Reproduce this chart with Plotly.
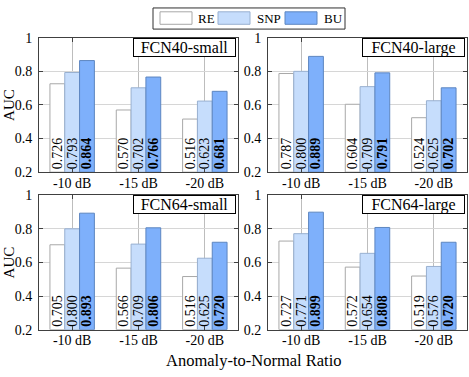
import plotly.graph_objects as go

# ---------------- data ----------------
categories = ["-10 dB", "-15 dB", "-20 dB"]
series_names = ["RE", "SNP", "BU"]
panel_titles = ["FCN40-small", "FCN40-large", "FCN64-small", "FCN64-large"]

fcn40_small_re = [0.726, 0.570, 0.516]
fcn40_small_snp = [0.793, 0.702, 0.623]
fcn40_small_bu = [0.864, 0.766, 0.681]

fcn40_large_re = [0.787, 0.604, 0.524]
fcn40_large_snp = [0.800, 0.709, 0.625]
fcn40_large_bu = [0.889, 0.791, 0.702]

fcn64_small_re = [0.705, 0.566, 0.516]
fcn64_small_snp = [0.800, 0.709, 0.625]
fcn64_small_bu = [0.893, 0.806, 0.720]

fcn64_large_re = [0.727, 0.572, 0.519]
fcn64_large_snp = [0.771, 0.654, 0.576]
fcn64_large_bu = [0.899, 0.808, 0.720]

y_tick_vals = [0.2, 0.4, 0.6, 0.8, 1.0]
y_tick_text = ["0.2", "0.4", "0.6", "0.8", "1"]

x_title = "Anomaly-to-Normal Ratio"
y_title = "AUC"

# ---------------- style ----------------
W, H = 469, 377
FONT = "Liberation Serif"
AXIS_MIN, AXIS_MAX = 0.2, 1.0
fill_colors = ["#ffffff", "#c6ddfc", "#7eb0fb"]
line_colors = ["#a8a8a8", "#98b0d0", "#5d86c0"]
AXIS_COLOR = "#404040"


def px(x):
    return x / W


def py(y):
    return 1 - y / H


panels = [
    (panel_titles[0], [fcn40_small_re, fcn40_small_snp, fcn40_small_bu]),
    (panel_titles[1], [fcn40_large_re, fcn40_large_snp, fcn40_large_bu]),
    (panel_titles[2], [fcn64_small_re, fcn64_small_snp, fcn64_small_bu]),
    (panel_titles[3], [fcn64_large_re, fcn64_large_snp, fcn64_large_bu]),
]

x_domains = [(px(39), px(238)), (px(268), px(467))]
y_domains = [(py(172), py(32)), (py(336), py(196))]

fig = go.Figure()
annotations = []
shapes = []

for i, (title, vals) in enumerate(panels):
    r, c = divmod(i, 2)
    n = i + 1
    sfx = "" if n == 1 else str(n)
    xa, ya = "x" + sfx, "y" + sfx
    for name, fc, lc, v in zip(series_names, fill_colors, line_colors, vals):
        labels = [f"{val:.3f}" for val in v]
        if name == "BU":
            labels = [f"<b>{t}</b>" for t in labels]
        fig.add_trace(go.Bar(
            x=categories,
            y=[val - AXIS_MIN for val in v],
            base=AXIS_MIN,
            name=name,
            text=labels,
            textposition="inside",
            insidetextanchor="start",
            textangle=-90,
            constraintext="none",
            textfont=dict(family=FONT, size=14, color="black"),
            marker=dict(color=fc, line=dict(color=lc, width=1)),
            xaxis=xa, yaxis=ya,
            showlegend=False,
            hoverinfo="skip",
        ))
    fig.layout["xaxis" + sfx] = dict(
        domain=x_domains[c], anchor=ya, range=[-0.5, 2.5],
        showline=True, mirror="ticks", linecolor=AXIS_COLOR, linewidth=1,
        ticks="inside", ticklen=4, tickcolor=AXIS_COLOR,
        showgrid=True, gridcolor="#bdbdbd", gridwidth=1,
        tickfont=dict(family=FONT, size=14, color="black"),
        ticklabelstandoff=-2,
        fixedrange=True,
    )
    fig.layout["yaxis" + sfx] = dict(
        domain=y_domains[r], anchor=xa, range=[AXIS_MIN, AXIS_MAX],
        tickvals=y_tick_vals, ticktext=y_tick_text,
        showline=True, mirror="ticks", linecolor=AXIS_COLOR, linewidth=1,
        ticks="inside", ticklen=4, tickcolor=AXIS_COLOR,
        showgrid=True, gridcolor="#d6d6d6", gridwidth=1,
        zeroline=False,
        tickfont=dict(family=FONT, size=14, color="black"),
        ticklabelstandoff=3,
        fixedrange=True,
    )
    annotations.append(dict(
        text=title, xref=xa + " domain", yref=ya + " domain",
        x=1, y=1, xanchor="right", yanchor="top", xshift=-2,
        showarrow=False, bgcolor="white", bordercolor="black",
        borderwidth=1, borderpad=0, width=101, height=17,
        font=dict(family=FONT, size=16, color="black"),
    ))
    if c == 0:
        yd = y_domains[r]
        annotations.append(dict(
            text=y_title, xref="paper", yref="paper",
            x=px(9), y=(yd[0] + yd[1]) / 2, xanchor="center", yanchor="middle",
            textangle=-90, showarrow=False,
            font=dict(family=FONT, size=15, color="black"),
        ))

annotations.append(dict(
    text=x_title, xref="paper", yref="paper", x=px(254), y=py(368),
    xanchor="center", yanchor="middle", showarrow=False,
    font=dict(family=FONT, size=16.5, color="black"),
))

# ---------------- manual legend ----------------
shapes.append(dict(type="rect", xref="paper", yref="paper",
                   x0=px(153), x1=px(345), y0=py(23), y1=py(1),
                   line=dict(color="#303030", width=1), fillcolor="white"))
sw_x = [160, 218, 285]
txt_x = [196, 255, 322]
for name, fc, lc, sx, tx in zip(series_names, fill_colors, line_colors, sw_x, txt_x):
    shapes.append(dict(type="rect", xref="paper", yref="paper",
                       x0=px(sx), x1=px(sx + 32), y0=py(18), y1=py(5),
                       line=dict(color=lc, width=1), fillcolor=fc))
    annotations.append(dict(
        text=name, xref="paper", yref="paper", x=px(tx), y=py(11.5),
        xanchor="left", yanchor="middle", showarrow=False,
        font=dict(family=FONT, size=13, color="black"),
    ))

fig.update_layout(
    width=W, height=H,
    margin=dict(l=0, r=0, t=0, b=0),
    barmode="group", bargap=0.33, bargroupgap=0,
    plot_bgcolor="white", paper_bgcolor="white",
    showlegend=False,
    annotations=annotations, shapes=shapes,
    font=dict(family=FONT, color="black"),
)

fig.write_html(
    "out.html",
    config={"displayModeBar": False},
    post_script="document.body.style.margin='0';document.body.style.overflow='hidden';",
)
